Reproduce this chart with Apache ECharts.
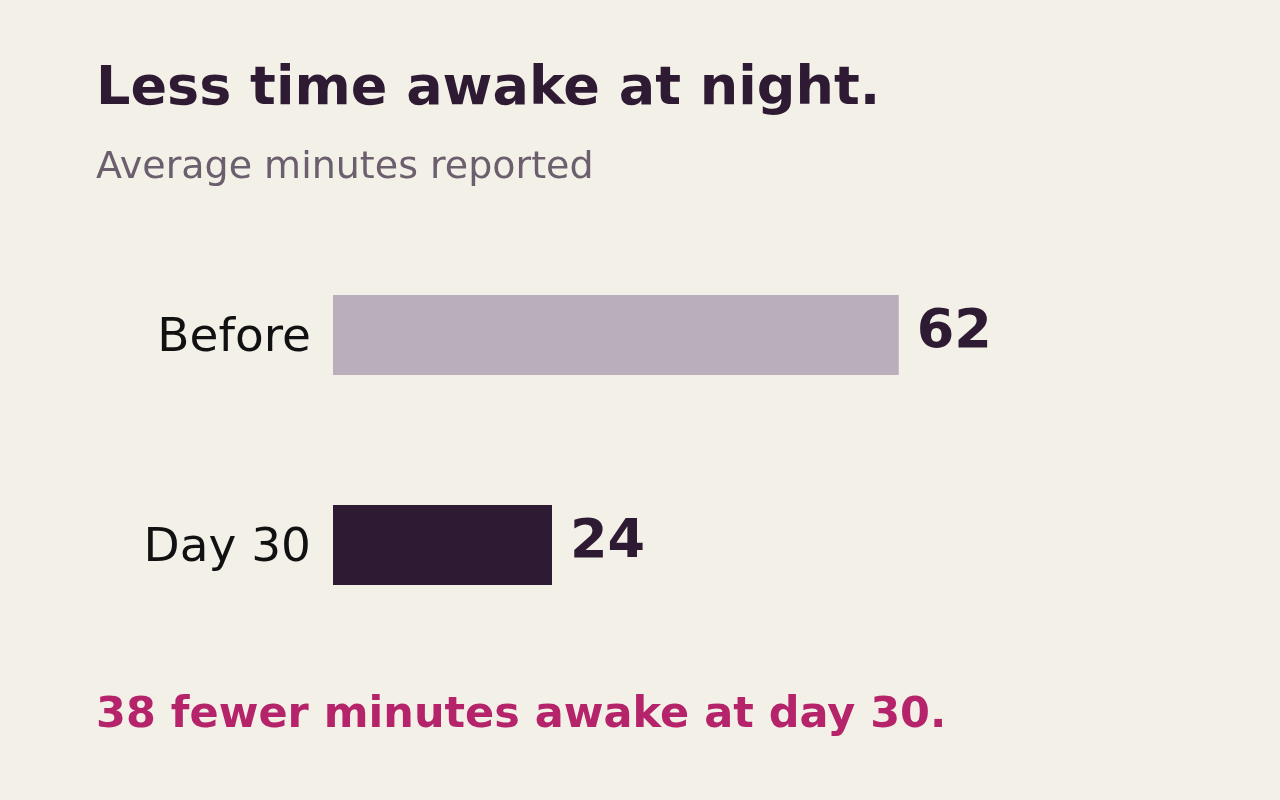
<!DOCTYPE html>
<html>
<head>
<meta charset="utf-8">
<script src="https://cdn.jsdelivr.net/npm/echarts@6/dist/echarts.min.js"></script>
<style>
html,body{margin:0;padding:0;background:#f3f0e8;}
#c{width:1280px;height:800px;}
</style>
</head>
<body>
<div id="c"></div>
<script>
const categories = ['Before', 'Day 30'];
const minutesAwake = [62, 24];
const titleText = 'Less time awake at night.';
const subtitleText = 'Average minutes reported';
const footerText = '38 fewer minutes awake at day 30.';

const barColors = ['#bbaebc', '#2e1a33'];
const FONT = '"DejaVu Sans", sans-serif';

const chart = echarts.init(document.getElementById('c'));
chart.setOption({
  backgroundColor: '#f3f0e8',
  animation: false,
  title: [
    { text: titleText, left: 96, top: 63, padding: 0,
      textStyle: { fontFamily: FONT, fontSize: 54, fontWeight: 'bold', color: '#2e1a33', lineHeight: 54 } },
    { text: subtitleText, left: 96, top: 149, padding: 0,
      textStyle: { fontFamily: FONT, fontSize: 38, fontWeight: 'normal', color: '#6b5f6d', lineHeight: 38 } },
    { text: footerText, left: 96, top: 694, padding: 0,
      textStyle: { fontFamily: FONT, fontSize: 43, fontWeight: 'bold', color: '#b5246b', lineHeight: 43 } }
  ],
  grid: { left: 333, top: 230, height: 420, right: 217, containLabel: false },
  xAxis: {
    type: 'value', min: 0, max: 80,
    show: false
  },
  yAxis: {
    type: 'category', data: categories, inverse: true,
    axisLine: { show: false }, axisTick: { show: false }, splitLine: { show: false },
    axisLabel: { fontFamily: FONT, fontSize: 47, color: '#111111', margin: 22,
      verticalAlign: 'top', lineHeight: 8 }
  },
  series: [{
    type: 'bar',
    data: minutesAwake,
    barWidth: 80,
    itemStyle: { color: p => barColors[p.dataIndex] },
    label: {
      show: true, position: 'right', distance: 18,
      verticalAlign: 'bottom', lineHeight: 5,
      fontFamily: FONT, fontSize: 54, fontWeight: 'bold', color: '#2e1a33'
    }
  }]
});
</script>
</body>
</html>
